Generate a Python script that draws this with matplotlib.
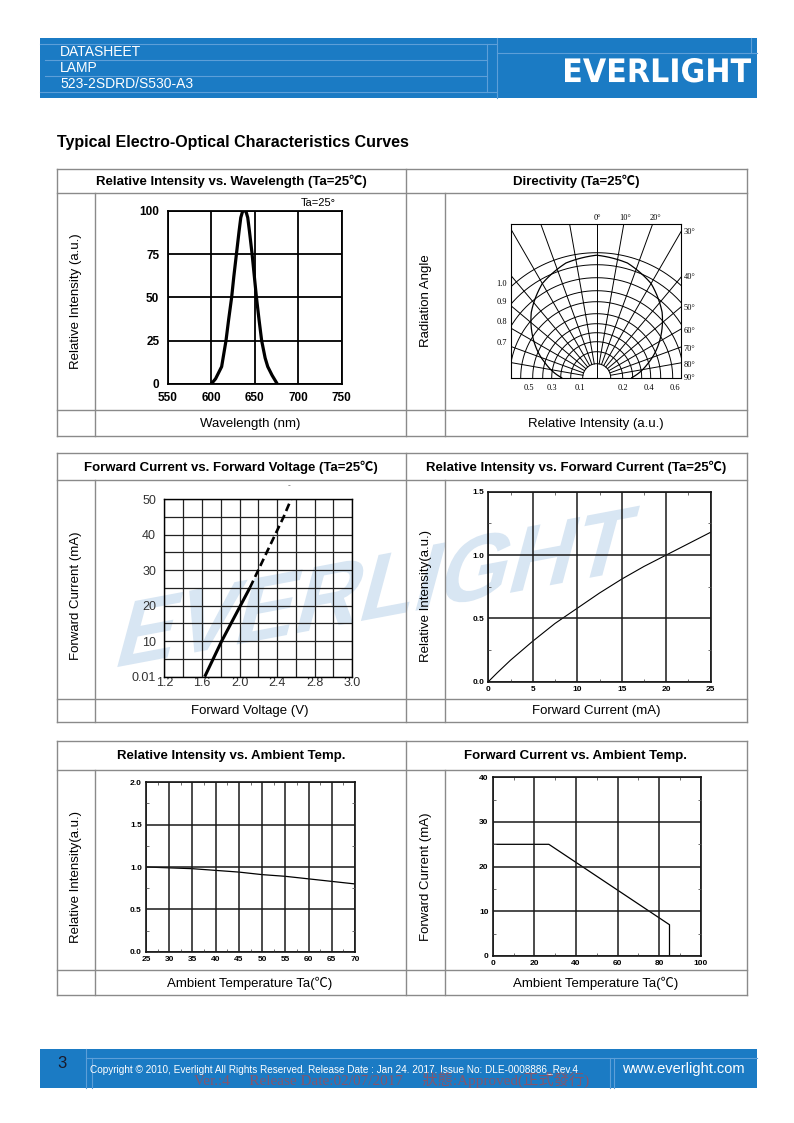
import numpy as np
import matplotlib
matplotlib.use("Agg")
import matplotlib.pyplot as plt
from matplotlib.textpath import TextPath
from matplotlib.patches import PathPatch
from matplotlib.font_manager import FontProperties
from matplotlib.transforms import Affine2D

W, H = 794, 1123
BLUE = "#1b7bc4"
LINE = "#5d9fd8"
GREY = "#8a8a8a"

plt.rcParams['font.family'] = ['Liberation Sans', 'Noto Sans CJK SC', 'DejaVu Sans']

# --- data ---
# spectrum
wl_nm = [600, 605, 612, 617, 620, 623.5, 626, 629, 632, 634, 636, 638, 640, 642, 644, 647, 650, 652, 655, 658, 662, 665, 670, 676]
wl_rel = [0, 3, 10, 25, 37, 50, 62, 75, 88, 96, 99.5, 100, 99.5, 96, 88, 75, 60, 50, 37, 25, 15, 10, 5, 0]

# directivity (angle in degrees, relative intensity)
dir_angle = [-90, -75, -60, -45, -30, -15, 0, 15, 30, 45, 60, 75, 90]
dir_rel = [0.28, 0.42, 0.58, 0.74, 0.87, 0.95, 0.98, 0.95, 0.87, 0.74, 0.58, 0.42, 0.28]
dir_left_labels = ['1.0', '0.9', '0.8', '0.7']
dir_bottom_labels = ['0.5', '0.3', '0.1', '0.2', '0.4', '0.6']
dir_right_labels = ['30°', '40°', '50°', '60°', '70°', '80°', '90°']
dir_top_labels = ['0°', '10°', '20°']

# forward current vs forward voltage
vf_solid = [1.63, 1.72, 1.81, 1.91, 2.01, 2.11]
if_solid = [0, 5, 10, 15, 20, 25]
vf_dash = [2.11, 2.20, 2.29, 2.38, 2.47, 2.55]
if_dash = [25, 30, 35, 40, 45, 50]
vf_ticks = [1.2, 1.6, 2.0, 2.4, 2.8, 3.2]
vf_ticklabels = ['1.2', '1.6', '2.0', '2.4', '2.8', '3.0']
ivf_ticks = [0, 10, 20, 30, 40, 50]
ivf_ticklabels = ['0.01', '10', '20', '30', '40', '50']

# relative intensity vs forward current
if_ma = [0, 1, 2.5, 5, 7.5, 10, 12.5, 15, 17.5, 20, 22.5, 25]
if_rel = [0, 0.07, 0.17, 0.32, 0.46, 0.58, 0.70, 0.81, 0.91, 1.0, 1.09, 1.18]

# relative intensity vs ambient temp
ta_c = [25, 30, 35, 40, 45, 50, 55, 60, 65, 70]
ta_rel = [1.0, 0.99, 0.98, 0.96, 0.94, 0.91, 0.89, 0.86, 0.83, 0.80]

# forward current derating
der_ta = [0, 27, 85, 85]
der_if = [25, 25, 7, 0]


def px_axes(fig, x0, y0, x1, y1):
    ax = fig.add_axes([x0 / W, 1 - y1 / H, (x1 - x0) / W, (y1 - y0) / H])
    ax.set_facecolor("none")
    ax.set_zorder(2)
    return ax


def hline(ax, y, x0, x1, **kw):
    ax.plot([x0, x1], [y, y], **kw)


def vline(ax, x, y0, y1, **kw):
    ax.plot([x, x], [y0, y1], **kw)


def fitted_word(ax, word, family, x0, ybase, width, height, xskew=0, yskew=0, **kw):
    # text outline stretched to a given box (pixel coords, y down)
    tp = TextPath((0, 0), word, size=1, prop=FontProperties(family=family, weight='bold'))
    ext = tp.get_extents()
    tr = (Affine2D().translate(-ext.x0, -ext.y0)
          .scale(width / ext.width, height / ext.height)
          .skew_deg(xskew, yskew)
          .scale(1, -1).translate(x0, ybase))
    ax.add_patch(PathPatch(tr.transform_path(tp), lw=0, **kw))


def draw_table(bg, rows, titles, ylabels, ycent, xlabels):
    y0, y1, y2, y3 = rows
    kw = dict(color=GREY, lw=1.0)
    for y in rows:
        hline(bg, y, 57, 747, **kw)
    for x in (57, 406, 747):
        vline(bg, x, y0, y3, **kw)
    for x in (95, 445):
        vline(bg, x, y1, y3, **kw)
    for xc, t in zip((231, 576), titles):
        bg.text(xc, (y0 + y1) / 2 + 0.5, t, ha='center', va='center',
                fontsize=9.5, fontweight='bold')
    for xc, t in zip((76, 426), ylabels):
        bg.text(xc, ycent, t, ha='center', va='center', rotation=90, fontsize=9.5)
    for xc, t in zip((250, 596), xlabels):
        bg.text(xc, (y2 + y3) / 2 + 0.5, t, ha='center', va='center', fontsize=9.5)


def style_small(ax, xminor, yminor):
    ax.set_axisbelow(False)
    for s in ax.spines.values():
        s.set_linewidth(1.1)
    ax.grid(True, which='major', color='#1a1a1a', lw=1.1)
    ax.set_xticks(np.arange(ax.get_xlim()[0], ax.get_xlim()[1] + 1e-9, xminor), minor=True)
    ax.set_yticks(np.arange(ax.get_ylim()[0], ax.get_ylim()[1] + 1e-9, yminor), minor=True)
    ax.tick_params(which='major', length=0, pad=3, labelsize=6)
    ax.tick_params(which='minor', direction='in', length=2.5, width=0.6,
                   top=True, right=True, color='#555555')
    for lab in ax.get_xticklabels() + ax.get_yticklabels():
        lab.set_fontweight('bold')


fig = plt.figure(figsize=(W / 100, H / 100), dpi=100)
bg = fig.add_axes([0, 0, 1, 1])
bg.set_xlim(0, W)
bg.set_ylim(H, 0)
bg.axis('off')
bg.set_zorder(0)

# header band
bg.add_patch(plt.Rectangle((40, 38), 717, 60, color=BLUE, lw=0))
lk = dict(color=LINE, lw=0.8)
hline(bg, 44, 40, 497, **lk)
hline(bg, 60, 45, 487, **lk)
hline(bg, 76, 45, 487, **lk)
hline(bg, 92, 40, 497, **lk)
hline(bg, 53, 497, 757, **lk)
vline(bg, 487, 44, 92, **lk)
vline(bg, 497, 38, 98, **lk)
vline(bg, 751, 38, 53, **lk)
for yy, t in zip((52, 68, 84), ("DATASHEET", "LAMP", "523-2SDRD/S530-A3")):
    bg.text(60, yy, t, color='white', fontsize=10, va='center')
fitted_word(bg, "EVERLIGHT", 'DejaVu Sans', 565, 82.5, 186, 24.5, color='white')

bg.text(57, 142, "Typical Electro-Optical Characteristics Curves", fontsize=11.5,
        fontweight='bold', va='center')

# watermark across the middle row
fitted_word(bg, "EVERLIGHT", 'Liberation Sans', 117, 668, 505, 68,
            xskew=15, yskew=10.7, color='#d8e6f3', zorder=1)

draw_table(bg, (169, 193, 410, 436),
           ("Relative Intensity vs. Wavelength (Ta=25℃)", "Directivity (Ta=25℃)"),
           ("Relative Intensity (a.u.)", "Radiation Angle"), 301,
           ("Wavelength (nm)", "Relative Intensity (a.u.)"))
draw_table(bg, (453, 480, 699, 722),
           ("Forward Current vs. Forward Voltage (Ta=25℃)",
            "Relative Intensity vs. Forward Current (Ta=25℃)"),
           ("Forward Current (mA)", "Relative Intensity(a.u.)"), 596,
           ("Forward Voltage (V)", "Forward Current (mA)"))
draw_table(bg, (741, 770, 970, 995),
           ("Relative Intensity vs. Ambient Temp.", "Forward Current vs. Ambient Temp."),
           ("Relative Intensity(a.u.)", "Forward Current (mA)"), 877,
           ("Ambient Temperature Ta(℃)", "Ambient Temperature Ta(℃)"))

# 1. spectrum
ax = px_axes(fig, 167.7, 210.7, 341.7, 384)
ax.plot(wl_nm, wl_rel, color='black', lw=2.3)
ax.set_xlim(550, 750)
ax.set_ylim(0, 100)
ax.set_xticks([550, 600, 650, 700, 750])
ax.set_yticks([0, 25, 50, 75, 100])
ax.grid(True, color='black', lw=1.3)
for s in ax.spines.values():
    s.set_linewidth(1.3)
ax.tick_params(length=0, labelsize=8.5, pad=6)
for lab in ax.get_xticklabels() + ax.get_yticklabels():
    lab.set_fontweight('bold')
bg.text(318, 203, "Ta=25°", fontsize=8, ha='center', va='center')

# 2. directivity
R = 125.0
ax = px_axes(fig, 510.7, 224.3, 681, 377.7)
ax.set_xlim(-86 / R, 84.3 / R)
ax.set_ylim(0, 153.4 / R)
ax.set_xticks([])
ax.set_yticks([])
for s in ax.spines.values():
    s.set_linewidth(0.8)
t = np.radians(np.linspace(-90, 90, 181))
for rp in [14, 26, 36, 45, 54, 64, 76, 87, 100, 113, 125]:
    ax.plot(rp / R * np.sin(t), rp / R * np.cos(t), color='black', lw=0.7)
for a in range(-90, 91, 10):
    ar = np.radians(a)
    r0 = 0 if a == 0 else 14 / R
    ax.plot([r0 * np.sin(ar), 2 * np.sin(ar)], [r0 * np.cos(ar), 2 * np.cos(ar)],
            color='black', lw=0.7)
da = np.radians(np.array(dir_angle, dtype=float))
dr = np.array(dir_rel)
fine = np.radians(np.linspace(-90, 90, 181))
dr_f = np.interp(fine, da, dr)
ax.plot(dr_f * np.sin(fine), dr_f * np.cos(fine), color='black', lw=0.9)
sk = dict(fontsize=6, family=['Liberation Serif', 'DejaVu Serif'], va='center')
for yy, t_ in zip((284, 302, 322, 343), dir_left_labels):
    bg.text(507, yy, t_, ha='right', **sk)
for xx, t_ in zip((529, 552, 580, 623, 649, 675), dir_bottom_labels):
    bg.text(xx, 388, t_, ha='center', **sk)
for yy, t_ in zip((232, 277, 308, 331, 349, 365, 378), dir_right_labels):
    bg.text(684, yy, t_, ha='left', **sk)
for xx, t_ in zip((597, 625, 655), dir_top_labels):
    bg.text(xx, 218, t_, ha='center', **sk)

# 3. forward current vs forward voltage
ax = px_axes(fig, 164.3, 499, 352.3, 676.7)
ax.plot(vf_solid, if_solid, color='black', lw=2.2, solid_capstyle='butt')
ax.plot(vf_dash, if_dash, color='black', lw=1.9, dashes=(3, 1.6))
ax.set_xlim(1.2, 3.2)
ax.set_ylim(0, 50)
ax.set_xticks(np.arange(1.2, 3.21, 0.2), minor=True)
ax.set_yticks(np.arange(0, 51, 5), minor=True)
ax.set_xticks(vf_ticks)
ax.set_xticklabels(vf_ticklabels)
ax.set_yticks(ivf_ticks)
ax.set_yticklabels(ivf_ticklabels)
ax.grid(True, which='both', color='#222222', lw=0.9)
for s in ax.spines.values():
    s.set_linewidth(1.0)
ax.tick_params(which='both', length=0)
ax.tick_params(axis='y', labelsize=9, pad=6, labelcolor='#333333')
ax.tick_params(axis='x', labelsize=9, pad=0.5, labelcolor='#333333')
bg.text(289, 486, "-", fontsize=6, ha='center', va='center', color='#555555')

# 4. relative intensity vs forward current
ax = px_axes(fig, 488.3, 491.7, 710.7, 681.7)
ax.plot(if_ma, if_rel, color='black', lw=0.8)
ax.set_xlim(0, 25)
ax.set_ylim(0, 1.5)
ax.set_xticks([0, 5, 10, 15, 20, 25])
ax.set_yticks([0, 0.5, 1.0, 1.5])
ax.set_yticklabels(['0.0', '0.5', '1.0', '1.5'])
style_small(ax, 2.5, 0.25)

# 5. relative intensity vs ambient temp
ax = px_axes(fig, 146, 782.3, 355, 951.7)
ax.plot(ta_c, ta_rel, color='black', lw=0.9)
ax.set_xlim(25, 70)
ax.set_ylim(0, 2.0)
ax.set_xticks(np.arange(25, 71, 5))
ax.set_yticks([0, 0.5, 1.0, 1.5, 2.0])
ax.set_yticklabels(['0.0', '0.5', '1.0', '1.5', '2.0'])
style_small(ax, 2.5, 0.25)

# 6. forward current derating
ax = px_axes(fig, 492.7, 777.3, 700.7, 956)
ax.plot(der_ta, der_if, color='black', lw=0.9)
ax.set_xlim(0, 100)
ax.set_ylim(0, 40)
ax.set_xticks([0, 20, 40, 60, 80, 100])
ax.set_yticks([0, 10, 20, 30, 40])
style_small(ax, 10, 5)

# footer band
bg.add_patch(plt.Rectangle((40, 1049), 717, 39, color=BLUE, lw=0))
hline(bg, 1058, 86, 757, **lk)
vline(bg, 86, 1049, 1088, **lk)
vline(bg, 92, 1058, 1088, **lk)
vline(bg, 610, 1058, 1088, **lk)
vline(bg, 614, 1058, 1088, **lk)
bg.text(62, 1063, "3", fontsize=12, color='#1a1a2a', ha='center', va='center')
bg.text(90, 1070, "Copyright © 2010, Everlight All Rights Reserved. Release Date : Jan 24. 2017. "
        "Issue No: DLE-0008886_Rev.4", fontsize=7.2, color='white', va='center')
bg.text(683, 1069, "www.everlight.com", fontsize=10.5, color='white', ha='center', va='center')
# faint approval stamp printed over the footer
bg.text(194, 1080, "Ver.:4     Release Date:02/07/2017     狀態:Approved(正式發行)",
        fontsize=11, color='#b0474a', alpha=0.7, va='center',
        family=['Liberation Serif', 'Noto Sans CJK TC'])

fig.savefig("out.png", dpi=100)
